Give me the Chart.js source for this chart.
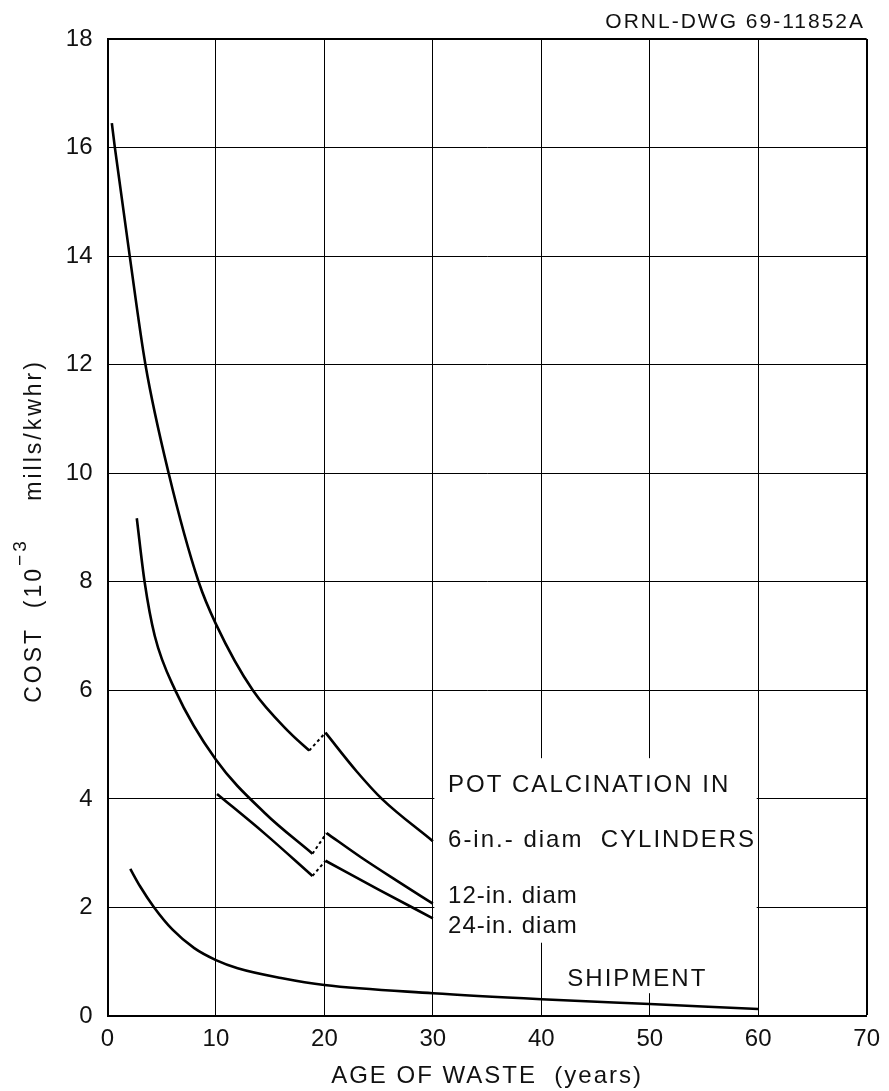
<!DOCTYPE html>
<html>
<head>
<meta charset="utf-8">
<title>Cost vs age of waste</title>
<script src="https://cdn.jsdelivr.net/npm/chart.js@4.4.1/dist/chart.umd.min.js"></script>
<style>
	html, body { margin: 0; padding: 0; background: #fff; }
	#wrap { width: 889px; height: 1091px; }
</style>
</head>
<body>
<div id="wrap"><canvas id="costChart"></canvas></div>
<script>
var xTicks = [0, 10, 20, 30, 40, 50, 60, 70];
var yTicks = [0, 2, 4, 6, 8, 10, 12, 14, 16, 18];

// 6-in. diam cylinders, before and after the jump near 20 years
var sixInEarlyAge  = [0.4, 0.68, 2.05, 3.5, 5.64, 8.4, 10, 13.4, 16.8, 18.6];
var sixInEarlyCost = [16.45, 16, 14, 12, 10, 8, 7.22, 6, 5.22, 4.89];
var sixInLateAge   = [20.1, 23, 25.3, 30];
var sixInLateCost  = [5.22, 4.5, 4.0, 3.22];

// 12-in. diam
var twelveInEarlyAge  = [2.7, 3.42, 4.36, 6.25, 10, 14.5, 18.9];
var twelveInEarlyCost = [9.17, 8, 7, 6, 4.72, 3.74, 2.99];
var twelveInLateAge   = [20.2, 23.4, 26.7, 30];
var twelveInLateCost  = [3.37, 2.92, 2.49, 2.07];

// 24-in. diam
var twentyFourEarlyAge  = [10.1, 14.5, 18.9];
var twentyFourEarlyCost = [4.09, 3.36, 2.58];
var twentyFourLateAge   = [20.1, 25, 30];
var twentyFourLateCost  = [2.86, 2.33, 1.8];

// shipment
var shipmentAge  = [2.1, 3, 4.3, 6, 8, 10, 12, 16, 20, 30, 40, 50, 60];
var shipmentCost = [2.71, 2.39, 2.0, 1.59, 1.25, 1.03, 0.88, 0.7, 0.57, 0.42, 0.31, 0.22, 0.13];

var FONT = '"Liberation Sans", Arial, sans-serif';

function toPoints(xs, ys) {
	var pts = [];
	for (var i = 0; i < xs.length; i++) {
		pts.push({x: xs[i], y: ys[i]});
	}
	return pts;
}

// solid piece of a curve
function curve(xs, ys) {
	return {
		data: toPoints(xs, ys),
		borderColor: '#000',
		borderWidth: 2.6,
		pointRadius: 0,
		fill: false,
		cubicInterpolationMode: 'monotone'
	};
}

// dotted step between the last point before and the first point after the jump
function jump(xsA, ysA, xsB, ysB) {
	return {
		data: [
			{x: xsA[xsA.length - 1], y: ysA[ysA.length - 1]},
			{x: xsB[0], y: ysB[0]}
		],
		borderColor: '#000',
		borderWidth: 2,
		borderDash: [3, 3],
		pointRadius: 0,
		fill: false
	};
}

var datasets = [
	curve(sixInEarlyAge, sixInEarlyCost),
	jump(sixInEarlyAge, sixInEarlyCost, sixInLateAge, sixInLateCost),
	curve(sixInLateAge, sixInLateCost),
	curve(twelveInEarlyAge, twelveInEarlyCost),
	jump(twelveInEarlyAge, twelveInEarlyCost, twelveInLateAge, twelveInLateCost),
	curve(twelveInLateAge, twelveInLateCost),
	curve(twentyFourEarlyAge, twentyFourEarlyCost),
	jump(twentyFourEarlyAge, twentyFourEarlyCost, twentyFourLateAge, twentyFourLateCost),
	curve(twentyFourLateAge, twentyFourLateCost),
	curve(shipmentAge, shipmentCost)
];

/**
 * Blanks the grid behind the lettering, then draws the lettering
 */
var letteringPlugin = {
	id: 'lettering',

	beforeDatasetsDraw: function(chart) {
		var ctx = chart.ctx, xs = chart.scales.x, ys = chart.scales.y;
		ctx.save();
		ctx.fillStyle = '#fff';
		// block holding the pot calcination labels
		var l = xs.getPixelForValue(30) + 1.5, r = xs.getPixelForValue(60) - 1.5;
		var t = ys.getPixelForValue(4.75), b = ys.getPixelForValue(1.35);
		ctx.fillRect(l, t, r - l, b - t);
		// block holding "SHIPMENT"
		var l2 = xs.getPixelForValue(40) + 1.5;
		ctx.fillRect(l2, b - 1, r - l2, ys.getPixelForValue(0.42) - b + 1);
		ctx.restore();
	},

	afterDraw: function(chart) {
		var ctx = chart.ctx, xs = chart.scales.x, ys = chart.scales.y;
		var area = chart.chartArea;
		ctx.save();
		ctx.fillStyle = '#111';
		ctx.textBaseline = 'alphabetic';
		ctx.letterSpacing = '2px';

		// drawing number
		ctx.font = '21px ' + FONT;
		ctx.textAlign = 'right';
		ctx.fillText('ORNL-DWG 69-11852A', 865, 28);

		// curve labels
		ctx.font = '24px ' + FONT;
		ctx.textAlign = 'left';
		var lx = xs.getPixelForValue(31.4);
		ctx.fillText('POT CALCINATION IN', lx, ys.getPixelForValue(4.13));
		ctx.fillText('6-in.- diam  CYLINDERS', lx, ys.getPixelForValue(3.12));
		ctx.letterSpacing = '1px';
		ctx.fillText('12-in. diam', lx, ys.getPixelForValue(2.08));
		ctx.fillText('24-in. diam', lx, ys.getPixelForValue(1.53));
		ctx.letterSpacing = '2px';
		ctx.fillText('SHIPMENT', xs.getPixelForValue(42.4), ys.getPixelForValue(0.55));

		// x axis title
		ctx.textAlign = 'center';
		ctx.fillText('AGE OF WASTE  (years)', (area.left + area.right) / 2, 1083);

		// y axis title, rotated, with superscript
		var partA = 'COST  (10', sup = '\u22123', partB = '    mills/kwhr)';
		ctx.translate(41, 531);
		ctx.rotate(-Math.PI / 2);
		ctx.textAlign = 'left';
		ctx.letterSpacing = '3px';
		ctx.font = '23px ' + FONT;
		var wA = ctx.measureText(partA).width, wB = ctx.measureText(partB).width;
		ctx.font = '19px ' + FONT;
		var wS = ctx.measureText(sup).width;
		var x0 = -(wA + wS + wB) / 2;
		ctx.font = '23px ' + FONT;
		ctx.fillText(partA, x0, 0);
		ctx.font = '19px ' + FONT;
		ctx.fillText(sup, x0 + wA, -15);
		ctx.font = '23px ' + FONT;
		ctx.fillText(partB, x0 + wA + wS, 0);
		ctx.restore();
	}
};

var config = {
	type: 'line',
	data: { datasets: datasets },
	options: {
		responsive: true,
		maintainAspectRatio: false,
		animation: false,
		layout: {
			padding: { top: 39, right: 18, left: 0, bottom: 0 }
		},
		plugins: {
			legend: { display: false },
			tooltip: { enabled: false }
		},
		scales: {
			x: {
				type: 'linear',
				min: xTicks[0],
				max: xTicks[xTicks.length - 1],
				afterBuildTicks: function(scale) {
					scale.ticks = xTicks.map(function(v) { return {value: v}; });
				},
				afterFit: function(scale) { scale.height = 75; },
				ticks: {
					color: '#111',
					font: { family: FONT, size: 24 },
					padding: 9,
					maxRotation: 0
				},
				grid: {
					color: '#000',
					lineWidth: function(c) { return c.tick && c.tick.value === 70 ? 2 : 1; },
					drawTicks: false
				},
				border: { display: true, color: '#000', width: 2 }
			},
			y: {
				type: 'linear',
				min: yTicks[0],
				max: yTicks[yTicks.length - 1],
				afterBuildTicks: function(scale) {
					scale.ticks = yTicks.map(function(v) { return {value: v}; });
				},
				afterFit: function(scale) { scale.width = 107.5; },
				ticks: {
					color: '#111',
					font: { family: FONT, size: 24 },
					padding: 15
				},
				grid: {
					color: '#000',
					lineWidth: function(c) { return c.tick && c.tick.value === 18 ? 2 : 1; },
					drawTicks: false
				},
				border: { display: true, color: '#000', width: 2 }
			}
		}
	},
	plugins: [letteringPlugin]
};

var ctx = document.getElementById('costChart').getContext('2d');
new Chart(ctx, config);
</script>
</body>
</html>
